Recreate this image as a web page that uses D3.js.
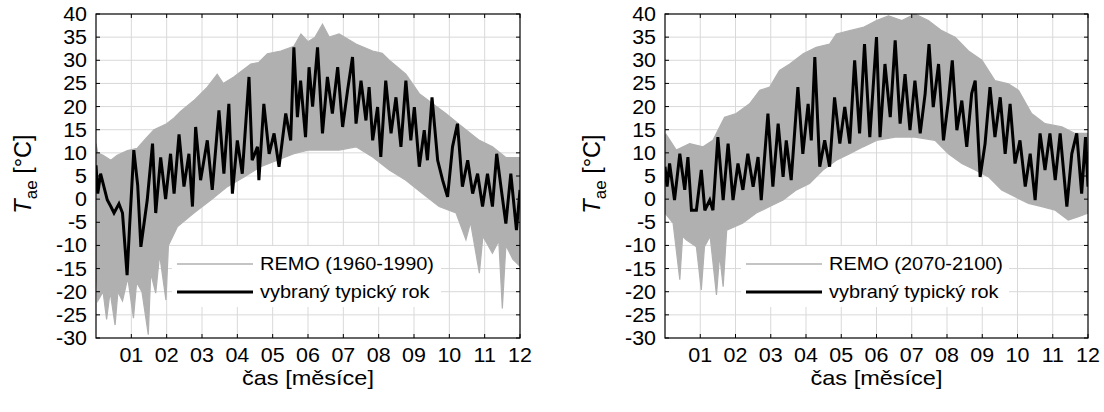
<!DOCTYPE html>
<html>
<head>
<meta charset="utf-8">
<script src="https://cdn.jsdelivr.net/npm/d3@7"></script>
<style>
    body { margin: 0; background: #fff; }
    svg { display: block; }
    text { font-family: "Liberation Sans", Arial, sans-serif; fill: #000; }
</style>
</head>
<body>
<svg id="chart" width="1104" height="412"></svg>
<script>
/* Data (month of year, °C) */
const monthTicks = [1, 2, 3, 4, 5, 6, 7, 8, 9, 10, 11, 12];
const monthLabels = ['01', '02', '03', '04', '05', '06', '07', '08', '09', '10', '11', '12'];
const tempTicks = [-30, -25, -20, -15, -10, -5, 0, 5, 10, 15, 20, 25, 30, 35, 40];
const remoNames = ['REMO (1960-1990)', 'REMO (2070-2100)'];
const typicalName = 'vybraný typický rok';
const xTitle = 'čas [měsíce]';

// REMO 1960-1990 envelope
const remo1Upper = [[0, 12], [0.05, 10], [0.2, 9.5], [0.42, 8.4], [0.6, 9.5], [0.89, 10.5], [1.17, 11], [1.4, 13],
    [1.64, 15], [2.0, 16.3], [2.2, 17.5], [2.4, 19], [2.77, 21.3], [3.15, 24.2], [3.43, 27], [3.6, 25], [3.9, 26.4],
    [4.38, 29.2], [4.6, 29.5], [4.85, 31.4], [5.23, 32], [5.6, 33], [5.8, 35.7], [6.0, 34], [6.2, 35], [6.41, 37.8],
    [6.6, 35], [6.88, 35.7], [7.36, 33.5], [7.83, 32], [8.1, 31.5], [8.3, 30], [8.77, 27], [9.15, 22.8], [9.53, 20.6],
    [9.9, 18.5], [10.37, 15.6], [10.85, 12.7], [11.22, 11.3], [11.6, 9], [12, 9]];
const remo1Lower = [[0, -15], [0.05, -22], [0.2, -20], [0.3, -26], [0.4, -20], [0.54, -27.2], [0.62, -20], [0.75, -22],
    [0.9, -17], [1.06, -25.7], [1.15, -18], [1.3, -20], [1.48, -29.3], [1.55, -16], [1.69, -20.3], [1.8, -12],
    [1.98, -21.8], [2.05, -10], [2.3, -6], [2.77, -3], [3.25, -0.2], [3.72, 2.7], [4.19, 4.8], [4.66, 7], [5.13, 8.4],
    [5.6, 9.8], [6.0, 10.6], [6.41, 10.6], [6.88, 10.6], [7.36, 11.3], [7.83, 9.1], [8.3, 6.3], [8.77, 4.1],
    [9.24, 1.2], [9.71, -1.6], [10.19, -3], [10.47, -8.8], [10.6, -5], [10.85, -16], [10.95, -8], [11.22, -11.7],
    [11.4, -9], [11.5, -23.6], [11.6, -10], [11.8, -13], [12, -14.5]];
// typical year, reference period
const typical1 = [[0, 7.3], [0.05, 1.2], [0.13, 5.5], [0.32, -0.2], [0.42, -1.6], [0.51, -3], [0.65, -1], [0.75, -3],
    [0.88, -16.4], [0.95, -6], [1.07, 10.6], [1.18, 3], [1.27, -10.3], [1.45, -0.2], [1.6, 12], [1.69, -3], [1.83, 9],
    [1.97, 0], [2.11, 9.8], [2.21, 1.2], [2.35, 14], [2.49, 2.7], [2.63, 9.8], [2.73, -1.6], [2.82, 15.6], [2.96, 4.1],
    [3.15, 12.7], [3.29, 2], [3.48, 19.2], [3.62, 5.5], [3.76, 20.6], [3.86, 1.2], [4.0, 12.7], [4.14, 5.5],
    [4.33, 26.4], [4.42, 8.4], [4.57, 11.3], [4.61, 4.1], [4.75, 20.6], [4.9, 9.8], [5.04, 14.2], [5.18, 7],
    [5.37, 18.5], [5.51, 12.7], [5.6, 32.8], [5.7, 17.7], [5.79, 25.6], [5.93, 13.4], [6.03, 28.5], [6.13, 20],
    [6.27, 32.8], [6.41, 14.2], [6.55, 26.4], [6.69, 18.5], [6.84, 28.5], [6.98, 15.6], [7.12, 23.5], [7.26, 30.7],
    [7.36, 16.3], [7.5, 25.6], [7.64, 17], [7.73, 24.2], [7.83, 12.7], [7.97, 19.9], [8.06, 9.1], [8.2, 25.6],
    [8.35, 14.2], [8.49, 22], [8.63, 11.3], [8.77, 25.6], [8.91, 12.7], [9.01, 19.9], [9.15, 7], [9.29, 14.9],
    [9.38, 8.4], [9.51, 22], [9.67, 8.4], [9.81, 4.1], [9.95, 0.5], [10.09, 11.3], [10.23, 16.3], [10.37, 2.7],
    [10.52, 8.4], [10.66, 1.2], [10.8, 5.5], [10.94, -1.6], [11.08, 5.5], [11.22, -1.6], [11.34, 9.8], [11.46, 2.7],
    [11.6, -5.3], [11.74, 5.5], [11.9, -6.7], [12, 2]];

// REMO 2070-2100 envelope
const remo2Upper = [[0, 13.4], [0.03, 14], [0.32, 10.6], [0.7, 12], [1.08, 11.3], [1.36, 12.7], [1.69, 17.7],
    [2.02, 18.5], [2.4, 20.6], [2.69, 23.5], [2.97, 24.2], [3.25, 27.8], [3.54, 29.2], [3.92, 31.4], [4.29, 32.8],
    [4.67, 33.5], [4.86, 35.7], [5.24, 36.4], [5.62, 37.1], [6.0, 38.6], [6.34, 39.6], [6.72, 38.6], [7.09, 40],
    [7.47, 38.6], [7.85, 36.4], [8.23, 35], [8.61, 32], [8.99, 30], [9.36, 25.6], [9.74, 24.9], [10.03, 23.5],
    [10.4, 18.5], [10.78, 16.3], [11.26, 15.6], [11.63, 14.2], [12, 14.2]];
const remo2Lower = [[0, -3], [0.23, -5.2], [0.42, -17.4], [0.5, -8], [0.6, -8.8], [0.89, -10.3], [1.03, -19.6],
    [1.12, -10.3], [1.28, -8], [1.46, -20.7], [1.55, -12], [1.65, -18.9], [1.75, -6.7], [2.2, -5.2], [2.59, -3],
    [2.97, -1.6], [3.35, -0.2], [3.73, 2], [4.1, 3.4], [4.48, 6.3], [4.86, 8.4], [5.24, 9.8], [5.62, 11.3],
    [6.0, 12.7], [6.53, 13.4], [7.09, 13.4], [7.66, 12.7], [8.04, 9.8], [8.42, 7.7], [8.8, 6.3], [9.18, 4.8],
    [9.55, 2], [9.93, 0.5], [10.31, -0.9], [10.69, -1.6], [11.07, -2.4], [11.44, -4.5], [11.73, -3.8], [12, -3]];
// typical year, future period
const typical2 = [[0, 7], [0.06, 2.7], [0.13, 7.7], [0.27, -0.2], [0.42, 9.8], [0.56, 2], [0.65, 9.1], [0.75, -2.4],
    [0.89, -2.4], [1.03, 6.3], [1.13, -2.4], [1.27, -0.2], [1.36, -2.4], [1.5, 13.4], [1.65, -0.2], [1.79, 12],
    [1.93, -0.2], [2.07, 7.7], [2.21, 2], [2.35, 9.8], [2.5, 2.7], [2.64, 9.1], [2.73, -0.2], [2.92, 18.5],
    [3.06, 2.7], [3.21, 16.3], [3.35, 4.8], [3.44, 12.7], [3.58, 4.1], [3.77, 24.2], [3.91, 9.8], [4.06, 20.6],
    [4.15, 12.7], [4.25, 30.7], [4.39, 7], [4.53, 12.7], [4.67, 7], [4.81, 22], [4.96, 12], [5.1, 19.9], [5.24, 12],
    [5.38, 30], [5.52, 14.2], [5.66, 33.5], [5.81, 13.4], [6.0, 35], [6.1, 13.4], [6.24, 29.2], [6.39, 17.7],
    [6.53, 34.3], [6.67, 16.3], [6.81, 27], [6.95, 14.9], [7.09, 25.6], [7.24, 14.2], [7.38, 22.8], [7.49, 33.5],
    [7.61, 19.9], [7.76, 29.2], [7.9, 12.7], [8.04, 21.3], [8.15, 30], [8.28, 14.9], [8.42, 21.3], [8.56, 11.3],
    [8.7, 22.8], [8.8, 25.6], [8.94, 4.8], [9.08, 12], [9.22, 24.2], [9.36, 13.4], [9.51, 22], [9.65, 9.8],
    [9.79, 20.6], [9.93, 7.7], [10.07, 12.7], [10.22, 2.7], [10.36, 9.8], [10.5, -0.2], [10.64, 14.2], [10.78, 6.3],
    [10.92, 14.2], [11.07, 4.1], [11.21, 14.2], [11.4, -1.6], [11.54, 9.8], [11.68, 14.2], [11.82, 1.2],
    [11.93, 13.4], [12, 2.7]];

/* Layout */
const panels = [
    { x0: 96, x1: 520, upper: remo1Upper, lower: remo1Lower, typical: typical1, name: remoNames[0] },
    { x0: 665, x1: 1088, upper: remo2Upper, lower: remo2Lower, typical: typical2, name: remoNames[1] }
];
const plotTop = 14, plotBottom = 338;
const grey = '#b0b0b0';

const svg = d3.select('#chart');
svg.append('rect').attr('width', 1104).attr('height', 412).attr('fill', '#fff');

// the source text is a little wider than Arial, so stretch it horizontally
function wideText(parent, x, y, str, size, anchor, sx) {
    return parent.append('g')
        .attr('transform', `translate(${x},${y}) scale(${sx},1)`)
        .append('text')
        .attr('text-anchor', anchor)
        .style('font-size', size + 'px')
        .text(str);
}

panels.forEach((p, i) => {
    const x = d3.scaleLinear().domain([0, 12]).range([p.x0, p.x1]);
    const y = d3.scaleLinear().domain([-30, 40]).range([plotBottom, plotTop]);
    const g = svg.append('g');

    g.append('clipPath').attr('id', 'clip' + i)
        .append('rect').attr('x', p.x0).attr('y', plotTop)
        .attr('width', p.x1 - p.x0).attr('height', plotBottom - plotTop);

    // grid
    g.selectAll('line.gx').data(monthTicks.slice(0, -1)).join('line')
        .attr('x1', d => x(d)).attr('x2', d => x(d))
        .attr('y1', plotTop).attr('y2', plotBottom)
        .attr('stroke', '#d9d9d9').attr('stroke-width', 1);
    g.selectAll('line.gy').data(tempTicks.slice(1, -1)).join('line')
        .attr('x1', p.x0).attr('x2', p.x1)
        .attr('y1', d => y(d)).attr('y2', d => y(d))
        .attr('stroke', '#d9d9d9').attr('stroke-width', 1);

    const data = g.append('g').attr('clip-path', `url(#clip${i})`);
    const line = d3.line().x(d => x(d[0])).y(d => y(d[1]));

    // REMO band
    const band = p.upper.concat(p.lower.slice().reverse());
    data.append('path')
        .attr('d', line(band) + 'Z')
        .attr('fill', grey)
        .attr('stroke', grey)
        .attr('stroke-width', 1.2)
        .attr('stroke-linejoin', 'miter');

    // typical year
    data.append('path')
        .attr('d', line(p.typical))
        .attr('fill', 'none')
        .attr('stroke', '#000')
        .attr('stroke-width', 3)
        .attr('stroke-linejoin', 'miter')
        .attr('stroke-miterlimit', 3);

    // legend
    const lg = g.append('g');
    lg.append('rect')
        .attr('x', p.x0 + 76).attr('y', 246)
        .attr('width', (p.x1 - 79) - (p.x0 + 76)).attr('height', 61)
        .attr('fill', '#fff');
    lg.append('line').attr('x1', p.x0 + 81).attr('x2', p.x0 + 157)
        .attr('y1', 264).attr('y2', 264).attr('stroke', grey).attr('stroke-width', 1.5);
    lg.append('line').attr('x1', p.x0 + 81).attr('x2', p.x0 + 157)
        .attr('y1', 292).attr('y2', 292).attr('stroke', '#000').attr('stroke-width', 3);
    wideText(lg, p.x0 + 164, 270, p.name, 17.5, 'start', 1.14);
    wideText(lg, p.x0 + 164, 298, typicalName, 17.5, 'start', 1.14);

    // frame
    g.append('rect')
        .attr('x', p.x0).attr('y', plotTop)
        .attr('width', p.x1 - p.x0).attr('height', plotBottom - plotTop)
        .attr('fill', 'none').attr('stroke', '#000').attr('stroke-width', 1.2);

    // inward ticks on all four sides
    monthTicks.forEach(m => {
        g.append('line').attr('x1', x(m)).attr('x2', x(m)).attr('y1', plotBottom).attr('y2', plotBottom - 4).attr('stroke', '#000');
        g.append('line').attr('x1', x(m)).attr('x2', x(m)).attr('y1', plotTop).attr('y2', plotTop + 4).attr('stroke', '#000');
    });
    tempTicks.forEach(t => {
        g.append('line').attr('x1', p.x0).attr('x2', p.x0 + 4).attr('y1', y(t)).attr('y2', y(t)).attr('stroke', '#000');
        g.append('line').attr('x1', p.x1).attr('x2', p.x1 - 4).attr('y1', y(t)).attr('y2', y(t)).attr('stroke', '#000');
    });

    // tick labels
    monthTicks.forEach((m, k) => wideText(g, x(m), 362, monthLabels[k], 19.5, 'middle', 1.1));
    tempTicks.forEach(t => wideText(g, p.x0 - 9, y(t) + 7, String(t), 19.5, 'end', 1.1));

    // axis titles
    wideText(g, (p.x0 + p.x1) / 2, 385, xTitle, 21, 'middle', 1.12);

    const yl = g.append('text')
        .attr('transform', `translate(${p.x0 - 65},${(plotTop + plotBottom) / 2 - 2}) rotate(-90)`)
        .attr('text-anchor', 'middle')
        .style('font-size', '23.5px');
    yl.append('tspan').style('font-style', 'italic').text('T');
    yl.append('tspan').attr('dy', 6).style('font-size', '17px').text('ae');
    yl.append('tspan').attr('dy', -6).text(' [°C]');
});
</script>
</body>
</html>
